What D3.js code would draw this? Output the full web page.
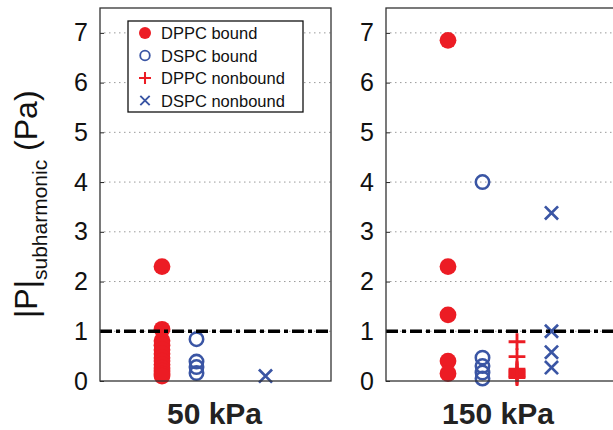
<!DOCTYPE html>
<html>
<head>
<meta charset="utf-8">
<script src="https://cdn.jsdelivr.net/npm/d3@7"></script>
<style>
  body { margin: 0; background: #fff; }
  svg { display: block; font-family: "Liberation Sans", Arial, sans-serif; }
</style>
</head>
<body>
<svg id="canvas" width="613" height="430"></svg>
<script>
// chart data
const categories = ['DPPC bound', 'DSPC bound', 'DPPC nonbound', 'DSPC nonbound'];
const pressures = ['50 kPa', '150 kPa'];
const yTicks = [0, 1, 2, 3, 4, 5, 6, 7];
const threshold = 1;

// 50 kPa
const dppcBound50 = [2.3, 1.04, 0.81, 0.72, 0.63, 0.55, 0.47, 0.4, 0.33, 0.26, 0.2, 0.14, 0.1];
const dspcBound50 = [0.84, 0.39, 0.28, 0.16];
const dppcNonbound50 = [];
const dspcNonbound50 = [0.1];

// 150 kPa
const dppcBound150 = [6.85, 2.3, 1.33, 0.4, 0.15];
const dspcBound150 = [4.0, 0.47, 0.3, 0.17, 0.05];
const dppcNonbound150 = [0.79, 0.49, 0.24, 0.21, 0.18, 0.15, 0.12, 0.09, 0.07];
const dspcNonbound150 = [3.38, 1.0, 0.58, 0.27];

const red = '#ec1c24';
const blue = '#3a55a4';
const markerStyle = [
    {shape: 'dot', color: red},
    {shape: 'ring', color: blue},
    {shape: 'plus', color: red},
    {shape: 'cross', color: blue}
];

let canvas = d3.select('#canvas');

const plotTop = 8, plotBottom = 381;
let panels = [
    {label: pressures[0], x0: 100, x1: 331, series: [dppcBound50, dspcBound50, dppcNonbound50, dspcNonbound50]},
    {label: pressures[1], x0: 386, x1: 614, series: [dppcBound150, dspcBound150, dppcNonbound150, dspcNonbound150]}
];

let y = d3.scaleLinear().domain([0, 7.5]).range([plotBottom, plotTop]);

// draws one marker into a group
let drawMarker = (g, shape, color, cx, cy, s) => {
    if (shape === 'dot') {
        g.append('circle').attr('cx', cx).attr('cy', cy).attr('r', s).attr('fill', color);
    } else if (shape === 'ring') {
        g.append('circle').attr('cx', cx).attr('cy', cy).attr('r', s * 0.8)
            .attr('fill', 'none').attr('stroke', color).attr('stroke-width', s * 0.3);
    } else if (shape === 'plus') {
        g.append('path').attr('d', `M${cx - s},${cy}H${cx + s}M${cx},${cy - s}V${cy + s}`)
            .attr('stroke', color).attr('stroke-width', s * 0.34).attr('fill', 'none');
    } else {
        let a = s * 0.78;
        g.append('path').attr('d', `M${cx - a},${cy - a}L${cx + a},${cy + a}M${cx - a},${cy + a}L${cx + a},${cy - a}`)
            .attr('stroke', color).attr('stroke-width', s * 0.32).attr('fill', 'none');
    }
};

panels.forEach((p) => {
    let g = canvas.append('g');
    let w = p.x1 - p.x0;
    // categories sit 34.5 px apart, first one 62 px in from the axis
    let x = d3.scaleLinear().domain([-62 / 34.5, (w - 62) / 34.5]).range([p.x0, p.x1]);

    // dotted grid
    g.selectAll('.grid')
        .data(yTicks.filter(t => t > 0))
        .enter()
        .append('line')
        .attr('x1', p.x0 + 4).attr('x2', p.x1)
        .attr('y1', d => y(d)).attr('y2', d => y(d))
        .attr('stroke', '#9a9a9a').attr('stroke-width', 1).attr('stroke-dasharray', '1.5,3.5');

    // axis with inward ticks
    let axis = d3.axisLeft(y).tickValues(yTicks).tickSize(-4).tickPadding(12).tickFormat(d3.format('d'));
    let ag = g.append('g').attr('transform', `translate(${p.x0},0)`).call(axis);
    ag.select('.domain').remove();
    ag.selectAll('.tick line').attr('stroke', '#222');
    ag.selectAll('.tick text').attr('font-size', 25).attr('fill', '#111')
        .attr('font-family', '"Liberation Sans", Arial, sans-serif');

    // markers
    p.series.forEach((values, i) => {
        let mg = g.append('g');
        values.forEach((v) => {
            drawMarker(mg, markerStyle[i].shape, markerStyle[i].color, x(i), y(v), 8.4);
        });
    });

    // threshold line
    g.append('line')
        .attr('x1', p.x0).attr('x2', p.x1)
        .attr('y1', y(threshold)).attr('y2', y(threshold))
        .attr('stroke', '#000').attr('stroke-width', 3.4).attr('stroke-dasharray', '12,4,4,4');

    // frame
    g.append('rect')
        .attr('x', p.x0).attr('y', plotTop)
        .attr('width', w).attr('height', plotBottom - plotTop)
        .attr('fill', 'none').attr('stroke', '#333').attr('stroke-width', 1.3);

    // pressure label
    g.append('text')
        .attr('x', (p.x0 + Math.min(p.x1, 612)) / 2 - 1)
        .attr('y', 424)
        .attr('text-anchor', 'middle')
        .attr('font-size', 30).attr('font-weight', 'bold').attr('fill', '#222')
        .text(p.label);
});

// legend
let legend = canvas.append('g');
legend.append('rect')
    .attr('x', 128).attr('y', 21).attr('width', 175).attr('height', 91)
    .attr('fill', '#fff').attr('stroke', '#111').attr('stroke-width', 1.3);
categories.forEach((c, i) => {
    let ly = 33 + i * 22.5;
    drawMarker(legend, markerStyle[i].shape, markerStyle[i].color, 145, ly, 6);
    legend.append('text')
        .attr('x', 161).attr('y', ly + 6)
        .attr('font-size', 16.5).attr('fill', '#111')
        .text(c);
});

// y axis label
let ylab = canvas.append('text')
    .attr('transform', 'translate(37,318) rotate(-90)')
    .attr('font-size', 32).attr('fill', '#111');
ylab.append('tspan').text('|P|');
ylab.append('tspan').attr('font-size', 21).attr('dy', 10).text('subharmonic');
ylab.append('tspan').attr('dy', -10).text(' (Pa)');
</script>
</body>
</html>
